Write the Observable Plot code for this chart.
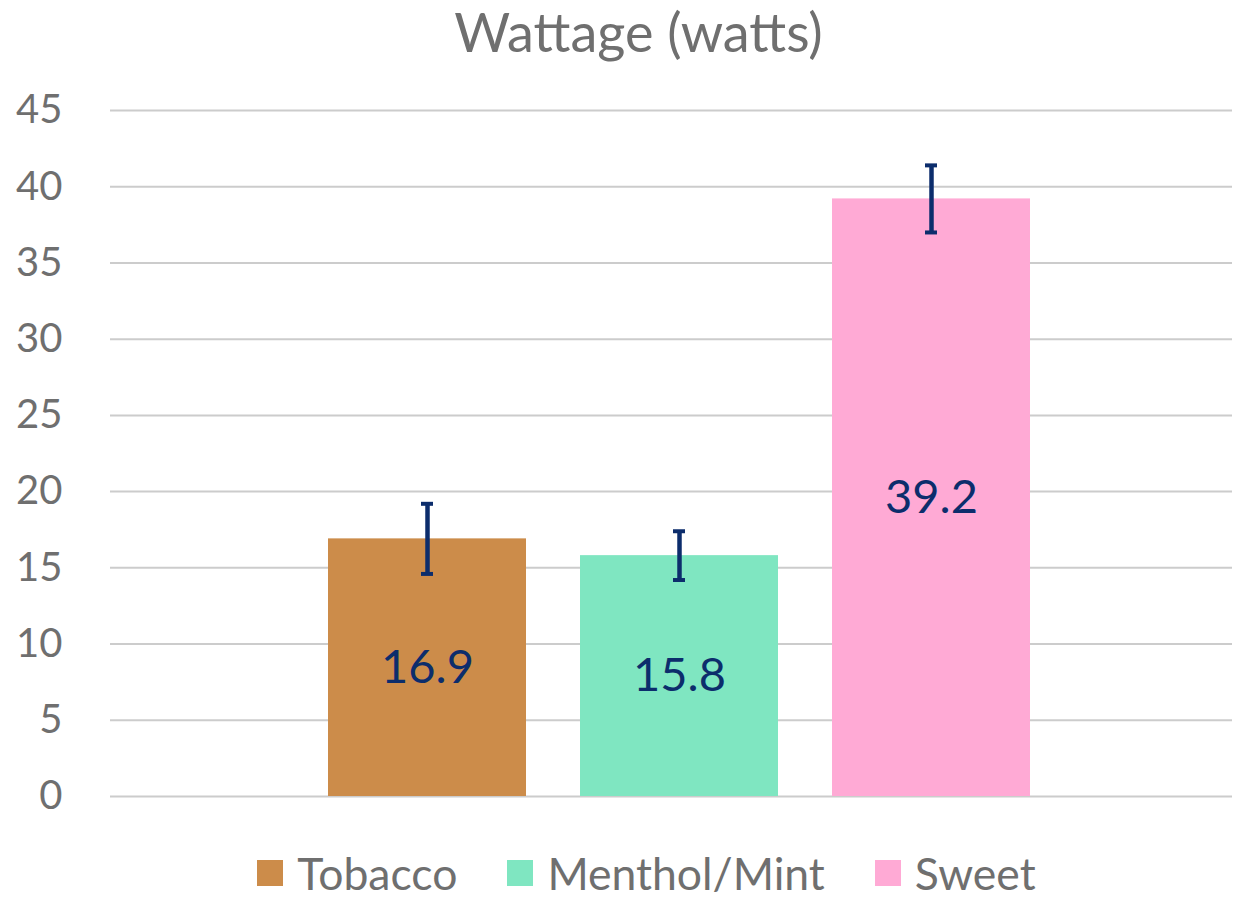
<!DOCTYPE html>
<html>
<head>
<meta charset="utf-8">
<script src="https://cdn.jsdelivr.net/npm/d3@7"></script>
<script src="https://cdn.jsdelivr.net/npm/@observablehq/plot@0.6"></script>
<style>
  html, body { margin: 0; padding: 0; background: #fff; }
  body { width: 1233px; font-family: Lato, "Open Sans", sans-serif; }
  #title { height: 70px; line-height: 64px; font-size: 54px; color: #6f6f6f; text-align: center; padding-left: 44px; box-sizing: border-box; width: 1233px; }
  #legend { display: flex; justify-content: center; align-items: center; height: 46px; padding-left: 60px; box-sizing: border-box; width: 1233px; font-size: 44.5px; line-height: 46px; color: #6f6f6f; }
  .item { display: flex; align-items: center; margin: 0 25px; height: 46px; }
  .item span { line-height: 46px; }
  .sw { width: 26px; height: 26px; margin-right: 14px; }
</style>
</head>
<body>
<div id="title">Wattage (watts)</div>
<div id="chart"></div>
<div id="legend"></div>
<script>
const categories = ["Tobacco", "Menthol/Mint", "Sweet"];
const values = [16.9, 15.8, 39.2];
const errLow = [14.6, 14.2, 37.0];
const errHigh = [19.2, 17.4, 41.4];
const colors = ["#cc8c4a", "#7fe6c1", "#ffaad5"];
const yTicks = [0, 5, 10, 15, 20, 25, 30, 35, 40, 45];

const data = categories.map((c, i) => ({cat: c, value: values[i], lo: errLow[i], hi: errHigh[i]}));
const navy = "#0c2d6c";

const chart = Plot.plot({
  width: 1233,
  height: 780,
  marginTop: 40,
  marginBottom: 54,
  marginLeft: 110,
  marginRight: 1,
  style: {fontFamily: "Lato, 'Open Sans', sans-serif", fontSize: "40px", color: "#6f6f6f", background: "#fff"},
  x: {domain: categories, range: [328, 1031], paddingInner: 0.214, paddingOuter: 0, axis: null},
  y: {domain: [0, 45], axis: null},
  color: {domain: categories, range: colors},
  marks: [
    Plot.ruleY(yTicks, {stroke: "#cccccc", strokeWidth: 2}),
    Plot.axisY(yTicks, {tickSize: 0, tickPadding: 48, fontSize: 40, fill: "#6f6f6f"}),
    Plot.barY(data, {x: "cat", y: "value", fill: "cat"}),
    Plot.text(data, {x: "cat", y: d => d.value / 2, text: d => d.value.toFixed(1), fill: navy, fontSize: 47}),
    Plot.ruleX(data, {x: "cat", y1: "lo", y2: "hi", stroke: navy, strokeWidth: 4.5}),
    Plot.tickY(data, {x: "cat", y: "lo", stroke: navy, strokeWidth: 4, insetLeft: 93, insetRight: 93}),
    Plot.tickY(data, {x: "cat", y: "hi", stroke: navy, strokeWidth: 4, insetLeft: 93, insetRight: 93})
  ]
});
document.getElementById("chart").appendChild(chart);

const legend = document.getElementById("legend");
categories.forEach((c, i) => {
  const item = document.createElement("div");
  item.className = "item";
  const sw = document.createElement("div");
  sw.className = "sw";
  sw.style.background = colors[i];
  const t = document.createElement("span");
  t.textContent = c;
  item.appendChild(sw);
  item.appendChild(t);
  legend.appendChild(item);
});
</script>
</body>
</html>
